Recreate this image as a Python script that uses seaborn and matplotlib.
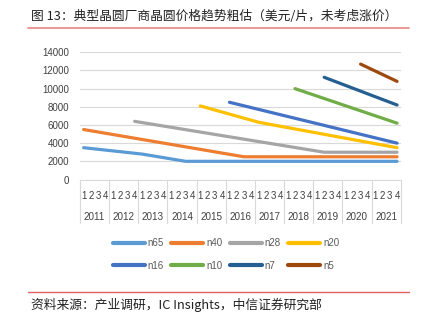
import matplotlib
matplotlib.use("Agg")
import matplotlib.pyplot as plt
import matplotlib.transforms as mtransforms
from matplotlib.lines import Line2D
import seaborn as sns
import pandas as pd

# ---- data (quarter index 0 = 2011Q1 ... 43 = 2021Q4), knots of each line ----
years = [str(y) for y in range(2011, 2022)]
quarter_labels = ["1", "2", "3", "4"]
series = ["n65", "n40", "n28", "n20", "n16", "n10", "n7", "n5"]
colors = ["#5B9BD5", "#ED7D31", "#A5A5A5", "#FFC000", "#4472C4", "#70AD47", "#255E91", "#9E480E"]

n65_q = [0, 8, 14, 43]
n65_v = [3500, 2800, 2000, 2000]
n40_q = [0, 22, 43]
n40_v = [5500, 2500, 2500]
n28_q = [7, 33, 43]
n28_v = [6400, 3000, 3000]
n20_q = [16, 24, 43]
n20_v = [8100, 6300, 3500]
n16_q = [20, 43]
n16_v = [8500, 4000]
n10_q = [29, 43]
n10_v = [10000, 6200]
n7_q = [33, 43]
n7_v = [11250, 8200]
n5_q = [38, 43]
n5_v = [12700, 10800]

knots = {
    "n65": (n65_q, n65_v), "n40": (n40_q, n40_v), "n28": (n28_q, n28_v),
    "n20": (n20_q, n20_v), "n16": (n16_q, n16_v), "n10": (n10_q, n10_v),
    "n7": (n7_q, n7_v), "n5": (n5_q, n5_v),
}
rows = []
for name in series:
    qs, vs = knots[name]
    for q, v in zip(qs, vs):
        rows.append({"q": q, "value": v, "series": name})
df = pd.DataFrame(rows)

# ---- figure ----
sns.set_theme(style="white")
plt.rcParams["font.family"] = ["Noto Sans CJK SC", "DejaVu Sans"]

W, H = 421, 330
fig = plt.figure(figsize=(W / 100, H / 100), dpi=100)
ax = fig.add_axes([80 / W, 1 - 179.5 / H, (400.7 - 80) / W, (179.5 - 52.3) / H])

sns.lineplot(data=df, x="q", y="value", hue="series", hue_order=series,
             palette=colors, linewidth=2.3, ax=ax, legend=False,
             solid_capstyle="round")

ax.set_xlim(-0.5, 43.5)
ax.set_ylim(0, 14000)
ax.set_yticks(range(0, 14001, 2000))
ax.set_yticklabels([str(v) for v in range(0, 14001, 2000)],
                   fontsize=7, color="#404040", family=["Liberation Sans"])
ax.yaxis.grid(True, color="#D9D9D9", linewidth=0.8)
ax.set_axisbelow(True)
for s in ["left", "right", "top"]:
    ax.spines[s].set_visible(False)
ax.spines["bottom"].set_color("#D9D9D9")
ax.spines["bottom"].set_linewidth(0.8)
ax.tick_params(axis="y", length=0, pad=8)
ax.set_xlabel("")
ax.set_ylabel("")

ax.set_xticks(range(44))
ax.set_xticklabels(quarter_labels * len(years), fontsize=7, color="#404040",
                   family=["Liberation Sans"])
ax.tick_params(axis="x", length=0, pad=8.5)

trans = mtransforms.blended_transform_factory(ax.transData, ax.transAxes)
ax_h = 179.5 - 52.3
for k, yr in enumerate(years):
    ax.text(4 * k + 1.5, -(216.7 - 179.5) / ax_h, yr, transform=trans,
            ha="center", va="center", fontsize=7.1, color="#404040",
            family=["Liberation Sans"])
for k in range(len(years) + 1):
    x = 4 * k - 0.5
    ax.add_line(Line2D([x, x], [0, -(223 - 179.5) / ax_h], transform=trans,
                       color="#D9D9D9", linewidth=0.8, clip_on=False))

# legend (row-major order: matplotlib fills columns first)
handles = [Line2D([0], [0], color=c, linewidth=3, solid_capstyle="round") for c in colors]
order = [0, 4, 1, 5, 2, 6, 3, 7]
fig.legend([handles[i] for i in order], [series[i] for i in order],
           loc="center", ncol=4,
           bbox_to_anchor=(226 / W, 1 - 254.5 / H), frameon=False,
           handlelength=3.3, handletextpad=0.3, columnspacing=0.75,
           labelspacing=1.25, labelcolor="#595959",
           prop={"family": ["Liberation Sans"], "size": 7})

# title, source, rules
fig.text(31 / W, 1 - 16 / H, "图 13：典型晶圆厂商晶圆价格趋势粗估（美元/片，未考虑涨价）",
         ha="left", va="center", fontsize=9.2, color="#222222")
fig.add_artist(Line2D([27.7 / W, 409 / W], [1 - 28 / H, 1 - 28 / H],
                      color="#E8908C", linewidth=1.3, transform=fig.transFigure))
fig.add_artist(Line2D([27.7 / W, 409 / W], [1 - 292.3 / H, 1 - 292.3 / H],
                      color="#E06060", linewidth=1.0, transform=fig.transFigure))
fig.text(31 / W, 1 - 305 / H, "资料来源：产业调研，IC Insights，中信证券研究部",
         ha="left", va="center", fontsize=9.2, color="#222222")

fig.savefig("out.png", dpi=100)
